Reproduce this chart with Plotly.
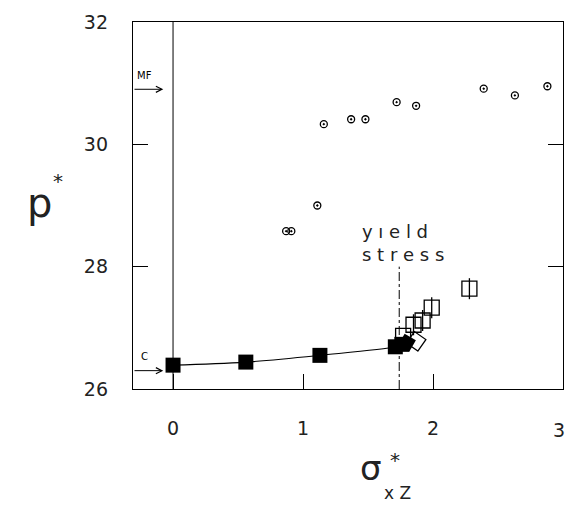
import plotly.graph_objects as go

# Data
filled_x = [0.0, 0.56, 1.13, 1.71, 1.76]
filled_p = [26.39, 26.44, 26.55, 26.69, 26.73]

open_sq_x = [1.77, 1.85, 1.92, 1.99, 2.28]
open_sq_p = [26.87, 27.05, 27.12, 27.33, 27.64]
split_x = [1.85, 1.92, 1.99, 2.28]
split_p = [27.05, 27.12, 27.33, 27.64]

diamond_x = [1.87]
diamond_p = [26.78]

circ_x = [0.87, 0.91, 1.11, 1.16, 1.37, 1.48, 1.72, 1.87, 2.39, 2.63, 2.88]
circ_p = [28.58, 28.58, 29.00, 30.33, 30.41, 30.41, 30.69, 30.63, 30.91, 30.80, 30.95]

yield_x = 1.74
yield_top = 28.0
mf_p = 30.9
c_p = 26.30

x_ticks = [0, 1, 2, 3]
x_tick_labels = ["0", "1", "2", "3"]
y_ticks = [26, 28, 30, 32]
x_range = [-0.308, 3.0]
y_range = [26, 32]

FONT = "DejaVu Sans"
TXT = "#222"
fig = go.Figure()

# vertical line at x = 0
fig.add_trace(go.Scatter(x=[0, 0], y=y_range, mode="lines",
                         line=dict(color="black", width=1), hoverinfo="skip"))
# yield stress dash-dot line
fig.add_trace(go.Scatter(x=[yield_x, yield_x], y=[y_range[0], yield_top], mode="lines",
                         line=dict(color="black", width=1, dash="dashdot"), hoverinfo="skip"))
# filled squares with connecting curve
fig.add_trace(go.Scatter(x=filled_x, y=filled_p, mode="lines+markers",
                         line=dict(color="black", width=1.2, shape="spline"),
                         marker=dict(symbol="square", size=15, color="black")))
# filled blob part
fig.add_trace(go.Scatter(x=[1.80], y=[26.76], mode="markers",
                         marker=dict(symbol="square", size=13, color="black", angle=30)))
# open squares
fig.add_trace(go.Scatter(x=open_sq_x, y=open_sq_p, mode="markers",
                         marker=dict(symbol="square-open", size=15, color="black",
                                     line=dict(width=1.3))))
fig.add_trace(go.Scatter(x=split_x, y=split_p, mode="markers",
                         marker=dict(symbol="line-ns-open", size=15, color="black",
                                     line=dict(width=1.3))))
# open diamond (tilted square)
fig.add_trace(go.Scatter(x=diamond_x, y=diamond_p, mode="markers",
                         marker=dict(symbol="square-open", size=14, color="black", angle=35,
                                     line=dict(width=1.3))))
# small circles
fig.add_trace(go.Scatter(x=circ_x, y=circ_p, mode="markers",
                         marker=dict(symbol="circle-open-dot", size=7, color="black",
                                     line=dict(width=1.3))))

# arrows
for p, lab in [(mf_p, "MF"), (c_p, "C")]:
    fig.add_annotation(x=-0.075, y=p, ax=x_range[0], ay=p, axref="x", ayref="y",
                       xref="x", yref="y", showarrow=True, arrowhead=5, arrowsize=1.2,
                       arrowwidth=1, arrowcolor="black", text="")
    fig.add_annotation(x=-0.22, y=p, xref="x", yref="y", text=lab, showarrow=False,
                       yshift=14, font=dict(family=FONT, size=10, color="black"))

# yield stress text
fig.add_annotation(x=0.529, y=(389 - 231) / 367, xref="paper", yref="paper",
                   text="y ı e l d", showarrow=False, xanchor="left",
                   font=dict(family=FONT, size=18, color=TXT))
fig.add_annotation(x=0.529, y=(389 - 254) / 367, xref="paper", yref="paper",
                   text="s t r e s s", showarrow=False, xanchor="left",
                   font=dict(family=FONT, size=18, color=TXT))

# last x tick label drawn as an annotation nudged inside the figure so it is not clipped
fig.add_annotation(x=x_ticks[-1], y=0, xref="x", yref="paper", text=x_tick_labels[-1],
                   showarrow=False, xanchor="center", yanchor="top", xshift=-4, yshift=-28,
                   font=dict(family=FONT, size=19, color=TXT))

# axis titles
fig.add_annotation(x=(25 - 133) / 430, y=(389 - 203) / 367, xref="paper", yref="paper",
                   text="p", showarrow=False, font=dict(family=FONT, size=40, color=TXT))
fig.add_annotation(x=(51 - 133) / 430, y=(389 - 181) / 367, xref="paper", yref="paper",
                   text="*", showarrow=False, font=dict(family=FONT, size=20, color=TXT))
fig.add_annotation(x=(371 - 133) / 430, y=(389 - 490) / 367, xref="paper", yref="paper",
                   text="σ", showarrow=False, font=dict(family=FONT, size=34, color=TXT))
fig.add_annotation(x=(395 - 133) / 430, y=(389 - 474) / 367, xref="paper", yref="paper",
                   text="*", showarrow=False, font=dict(family=FONT, size=20, color=TXT))
fig.add_annotation(x=(397 - 133) / 430, y=(389 - 505) / 367, xref="paper", yref="paper",
                   text="x Z", showarrow=False, font=dict(family=FONT, size=17, color=TXT))

# the page body has an 8px default margin on every side; size the figure so
# the whole page stays 573x511 and the plot area lands at 133..563 x 22..389
fig.update_layout(
    width=557, height=495,
    margin=dict(l=125, r=2, t=14, b=114),
    plot_bgcolor="white", paper_bgcolor="white",
    showlegend=False,
    font=dict(family=FONT, size=19, color=TXT),
)
fig.update_xaxes(range=x_range, tickvals=x_ticks,
                 ticktext=x_tick_labels[:-1] + [""], ticks="inside", ticklen=15,
                 tickcolor="black", tickwidth=1.3, showline=True, linecolor="black",
                 linewidth=1.3, mirror=True, showgrid=False, zeroline=False,
                 ticklabelstandoff=22)
fig.update_yaxes(range=y_range, tickvals=y_ticks, ticks="inside", ticklen=15,
                 tickcolor="black", tickwidth=1.3, showline=True, linecolor="black",
                 linewidth=1.3, mirror="ticks", showgrid=False, zeroline=False,
                 ticklabelstandoff=20)

fig.write_html("out.html")
